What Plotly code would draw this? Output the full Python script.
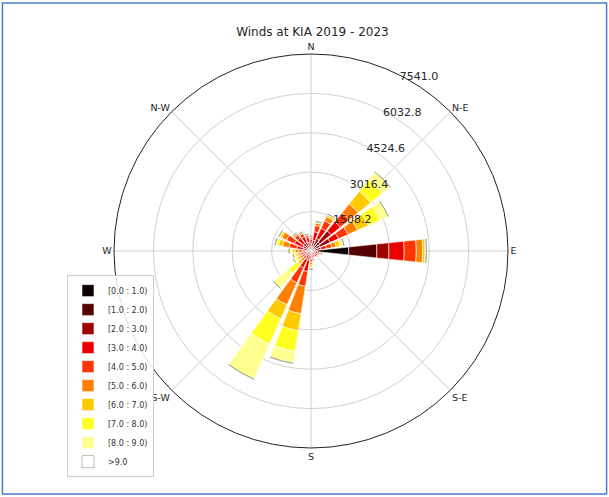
import plotly.graph_objects as go

# ---- data ----
directions = [0, 15, 30, 45, 60, 75, 90, 105, 120, 135, 150, 165,
              180, 195, 210, 225, 240, 255, 270, 285, 300, 315, 330, 345]

bin_labels = ["[0.0 : 1.0)", "[1.0 : 2.0)", "[2.0 : 3.0)", "[3.0 : 4.0)", "[4.0 : 5.0)",
              "[5.0 : 6.0)", "[6.0 : 7.0)", "[7.0 : 8.0)", "[8.0 : 9.0)", ">9.0"]

speed_0_1 = [30, 40, 50, 150, 120, 60, 1447, 60, 50, 40, 35, 30, 30, 50, 50, 30, 25, 25, 30, 40, 40, 40, 40, 35]
speed_1_2 = [90, 120, 150, 300, 250, 120, 1078, 90, 80, 70, 60, 55, 60, 100, 100, 50, 50, 50, 60, 90, 100, 110, 110, 100]
speed_2_3 = [170, 260, 330, 540, 430, 200, 461, 110, 90, 90, 80, 85, 100, 200, 200, 70, 80, 90, 100, 160, 200, 230, 220, 200]
speed_3_4 = [150, 330, 420, 450, 350, 220, 584, 80, 70, 70, 65, 80, 120, 450, 350, 100, 100, 110, 130, 260, 350, 270, 240, 190]
speed_4_5 = [70, 240, 320, 450, 400, 200, 462, 45, 35, 35, 35, 55, 120, 570, 630, 130, 110, 120, 150, 300, 330, 150, 120, 80]
speed_5_6 = [30, 100, 170, 440, 400, 170, 248, 20, 15, 15, 15, 25, 100, 1060, 930, 120, 110, 110, 140, 250, 200, 60, 45, 30]
speed_6_7 = [10, 35, 70, 610, 450, 150, 90, 8, 6, 6, 6, 12, 80, 660, 580, 150, 100, 90, 120, 160, 80, 25, 15, 10]
speed_7_8 = [5, 15, 25, 560, 500, 100, 30, 4, 3, 3, 3, 5, 55, 800, 1060, 450, 90, 60, 70, 90, 35, 10, 7, 3]
speed_8_9 = [3, 7, 10, 380, 340, 50, 20, 2, 1, 1, 1, 2, 30, 460, 1470, 740, 70, 35, 40, 40, 12, 4, 2, 1]
speed_9_up = [2, 3, 5, 20, 10, 10, 5, 1, 0, 0, 0, 1, 5, 10, 10, 10, 15, 10, 10, 10, 3, 1, 1, 1]

radial_ticks = [1508.2, 3016.4, 4524.6, 6032.8, 7541.0]
compass_angles = [0, 45, 90, 135, 180, 225, 270, 315]
compass_labels = ["N", "N-E", "E", "S-E", "S", "S-W", "W", "N-W"]

# ---- style ----
series = [speed_0_1, speed_1_2, speed_2_3, speed_3_4, speed_4_5,
          speed_5_6, speed_6_7, speed_7_8, speed_8_9, speed_9_up]
colors = ["rgb(11,0,0)", "rgb(85,0,0)", "rgb(159,0,0)", "rgb(234,0,0)", "rgb(255,53,0)",
          "rgb(255,128,0)", "rgb(255,202,0)", "rgb(255,255,32)", "rgb(255,255,143)", "rgb(255,255,255)"]
FONT = "DejaVu Sans"
RADIAL_ANGLE = 65

fig = go.Figure()
for label, vals, col in zip(bin_labels, series, colors):
    edge = "#8c8c8c" if col == "rgb(255,255,255)" else "white"
    fig.add_trace(go.Barpolar(
        r=vals, theta=directions, width=12, name=label,
        marker=dict(color=col, line=dict(color=edge, width=0.6)),
    ))

fig.update_layout(
    width=609, height=497,
    margin=dict(l=0, r=0, t=0, b=0),
    paper_bgcolor="white",
    font=dict(family=FONT, color="#262626"),
    title=dict(text="Winds at KIA 2019 - 2023", x=0.513, xanchor="center",
               y=0.937, yanchor="middle", font=dict(size=12, family=FONT, color="#262626")),
    polar=dict(
        domain=dict(x=[(311 - 197) / 609, (311 + 197) / 609],
                    y=[(497 - 251 - 197) / 497, (497 - 251 + 197) / 497]),
        bgcolor="white",
        barmode="stack",
        angularaxis=dict(direction="clockwise", rotation=90,
                         tickmode="array", tickvals=compass_angles, ticktext=compass_labels,
                         showline=True, linecolor="#222222", linewidth=1,
                         gridcolor="#d0d0d0", gridwidth=1, ticks="",
                         tickfont=dict(size=9.5, family=FONT, color="#262626")),
        radialaxis=dict(range=[0, 7541.0], tickmode="array", tickvals=radial_ticks,
                        ticktext=[f"{v:.1f}" for v in radial_ticks],
                        angle=RADIAL_ANGLE, tickangle=RADIAL_ANGLE, showline=False, ticks="",
                        gridcolor="#d0d0d0", gridwidth=1,
                        tickfont=dict(size=11, family=FONT, color="#262626")),
    ),
    legend=dict(x=0.11, y=0.04, xanchor="left", yanchor="bottom",
                bgcolor="rgba(255,255,255,0.85)", bordercolor="#cccccc", borderwidth=1,
                font=dict(size=8, family=FONT, color="#333333"), tracegroupgap=0),
    shapes=[dict(type="rect", xref="paper", yref="paper", x0=0.004, x1=0.996, y0=0.006, y1=0.994,
                 line=dict(color="#4a7bc8", width=1.5), fillcolor="rgba(0,0,0,0)", layer="below")],
)

fig.write_html("out.html", config={"displayModeBar": False},
               post_script="document.body.style.margin='0px';")
